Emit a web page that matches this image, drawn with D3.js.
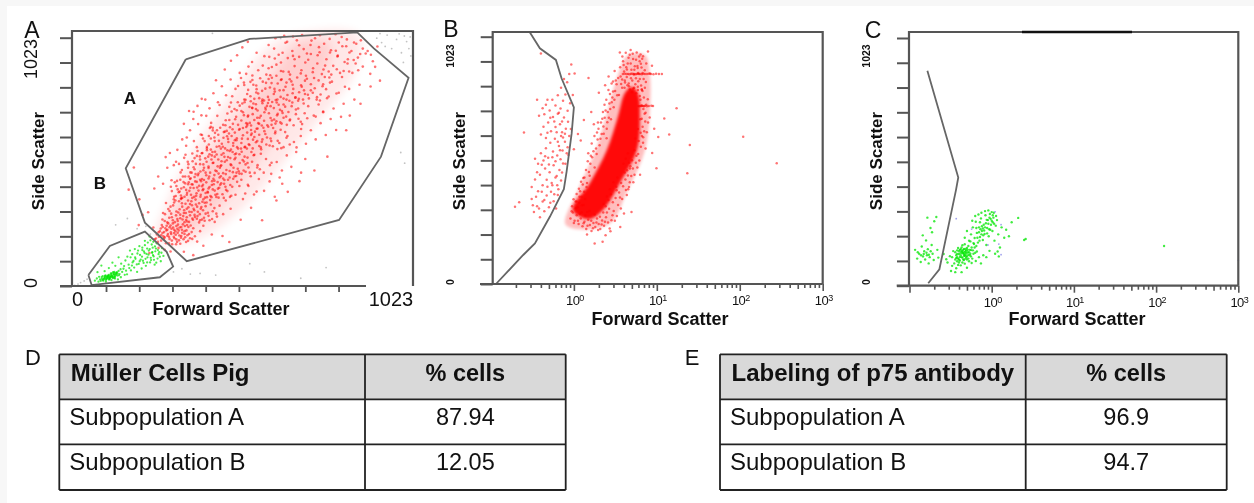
<!DOCTYPE html>
<html lang="en">
<head>
<meta charset="UTF-8">
<title>Scatter plots and tables</title>
<script src="https://cdnjs.cloudflare.com/ajax/libs/d3/7.8.5/d3.min.js"></script>
<style>
    html, body { margin: 0; padding: 0; background: #fff; overflow: hidden; }
    svg { display: block; filter: blur(0.45px); }
    text { font-family: "Liberation Sans", Arial, sans-serif; fill: #111; }
</style>
</head>
<body>
<svg id="fig" width="1254" height="503">
    <defs>
        <filter id="soft" x="-20%" y="-20%" width="140%" height="140%"><feGaussianBlur stdDeviation="5"/></filter>
        <filter id="softer" x="-20%" y="-20%" width="140%" height="140%"><feGaussianBlur stdDeviation="1.6"/></filter>
    </defs>
</svg>
<script>
// events are flat lists: x, y, x, y ... (forward scatter, side scatter)
const aRed = [
262,182,281,195,296,176,311,203,327,188,344,214,268,226,285,238,302,221,319,247,336,232,353,209,371,238,248,241,259,212,274,251,291,207,308,258,323,219,339,254,356,243,376,205,392,226,305,187,318,172,333,199,349,181,298,242,288,229,276,218,265,203,312,232,329,241,344,226,361,197,383,183,402,248,271,237,293,214,317,211,301,249,334,206,352,251,366,222,279,205,322,236,
283,268,297,281,314,263,331,294,349,272,366,305,382,277,401,312,418,289,437,264,294,317,309,332,327,349,343,312,361,338,378,356,396,325,412,344,431,308,452,331,471,352,278,301,303,298,322,276,340,288,358,264,375,293,392,271,409,298,425,336,444,286,319,307,337,327,355,352,372,318,389,341,406,269,287,342,311,357,334,362,351,283,368,278,385,306,402,357,421,271,463,296,486,318,348,301,
317,371,334,402,352,384,369,418,387,393,404,437,421,408,439,376,457,423,476,391,494,442,513,412,531,381,548,452,302,409,321,433,339,451,357,427,375,449,393,368,411,456,429,432,447,401,465,363,483,447,501,376,519,438,539,417,566,389,344,368,362,405,380,372,398,411,416,385,434,419,452,447,470,409,488,372,506,429,361,441,378,461,395,432,413,366,431,398,449,364,467,437,485,416,503,453,329,389,346,423,364,376,382,429,400,395,418,443,436,457,
336,478,354,512,372,489,391,534,409,467,427,521,446,493,464,547,483,474,501,528,520,462,538,507,557,539,576,481,595,523,347,541,366,467,384,556,402,501,421,543,439,476,458,514,476,559,495,487,513,543,532,471,550,552,569,498,588,467,612,508,356,502,375,527,393,472,412,512,430,552,449,463,467,532,486,501,504,467,523,519,541,488,560,466,579,545,399,548,418,486,437,533,455,494,474,518,492,552,511,473,529,533,
382,572,401,608,419,583,438,631,456,566,475,617,494,589,512,644,531,573,549,622,568,597,587,652,606,579,624,636,642,568,661,618,681,593,703,647,394,624,413,567,431,652,450,598,468,636,487,562,505,609,524,651,542,584,561,636,580,563,598,612,617,651,636,589,654,634,425,608,444,642,462,574,481,628,499,601,518,566,537,632,555,603,574,577,593,626,611,597,630,564,
426,672,445,701,463,664,482,738,500,687,519,721,538,668,556,752,575,693,593,734,612,664,631,709,649,748,668,682,687,727,706,667,725,741,748,698,771,719,452,746,471,683,489,719,508,757,527,704,545,672,564,729,582,661,601,754,620,686,638,726,657,698,676,756,695,689,714,712,540,702,552,734,571,671,590,716,609,741,627,679,646,713,
491,782,509,824,528,768,547,841,565,797,584,768,603,853,621,812,640,779,658,838,677,794,696,771,715,846,733,806,752,778,771,831,790,859,812,793,838,821,518,857,537,791,556,829,574,774,593,813,612,836,630,768,649,807,668,852,686,777,705,821,724,788,743,857,761,764,780,811,
534,874,552,923,571,889,590,947,608,868,627,912,646,961,665,882,683,934,702,876,721,958,740,897,758,984,777,908,796,871,815,946,834,886,852,962,871,917,893,978,918,953,566,961,585,908,603,993,622,937,641,886,660,1006,678,948,697,992,716,921,735,1011,754,951,772,892,791,1018,810,969,828,1026,847,934,866,1003,885,956,
// outliers
188,488,172,397,205,357,203,251,232,304,252,192,236,136,342,141,371,127,402,166,428,212,461,206,482,181,517,273,549,322,583,271,627,352,662,388,698,432,744,476,784,533,842,642,853,702,886,751,917,822,946,846,351,612,372,718,397,771,441,848,301,142,264,157,283,149,215,293,607,498,645,421,
// thick of the cloud
256,196,264,221,272,187,277,243,283,201,287,176,291,232,294,258,298,194,303,214,306,172,309,241,313,197,316,226,321,181,324,253,328,208,331,174,337,219,341,193,345,247,350,229,355,186,358,214,363,249,368,194,272,209,281,222,289,248,296,203,304,236,312,218,319,192,326,229,334,243,346,201,
276,274,284,296,291,262,298,309,305,283,312,344,318,291,323,268,329,316,333,358,338,274,342,301,347,339,352,266,356,324,361,291,365,349,370,273,374,312,379,336,384,288,389,262,394,318,399,347,404,281,409,329,416,302,423,354,429,276,436,321,442,298,301,327,308,271,316,352,325,303,331,279,336,341,344,263,351,318,359,306,367,333,376,284,383,327,391,296,398,274,406,343,
312,368,319,412,326,386,331,438,337,363,342,407,346,451,351,376,355,419,359,392,363,444,368,363,372,404,377,431,381,382,385,456,389,413,394,376,398,441,402,399,407,364,411,427,415,388,420,451,424,371,428,416,433,442,437,393,442,367,446,428,451,405,456,452,461,378,466,421,472,396,478,438,484,367,491,409,498,451,305,391,314,427,323,398,333,373,341,428,349,396,357,451,366,419,374,367,383,406,392,438,401,417,409,383,418,402,427,366,436,434,445,379,454,417,463,443,
362,468,369,514,375,481,382,536,387,463,392,502,397,547,402,477,408,526,413,559,418,492,423,467,428,538,433,508,438,553,443,473,448,521,453,487,458,541,463,465,468,512,473,478,478,531,483,556,488,498,493,469,498,522,503,546,508,483,514,507,520,553,526,476,532,501,538,529,545,467,552,512,559,541,568,488,327,503,343,528,355,487,368,546,379,503,392,521,404,487,417,533,431,507,443,542,457,497,471,461,485,527,499,543,513,463,527,513,
413,573,419,618,425,562,431,641,437,597,443,574,448,623,454,652,459,586,464,611,469,567,474,639,479,593,484,654,489,618,494,578,499,632,504,601,509,566,514,647,519,589,524,621,529,572,534,655,539,606,544,581,549,643,554,567,559,614,564,592,569,649,574,623,579,571,584,604,590,638,596,583,602,656,609,608,616,576,623,629,631,598,640,644,649,572,658,611,668,583,406,597,422,651,436,612,451,576,465,634,478,606,492,646,506,572,521,607,536,566,551,628,566,648,582,594,
470,662,476,711,482,684,487,756,493,668,498,729,503,697,509,664,514,743,519,682,524,716,529,757,534,671,539,698,544,738,549,661,554,708,559,684,564,749,569,723,574,668,579,701,584,753,589,681,594,727,599,662,604,712,609,692,614,758,619,733,624,669,629,703,634,747,639,674,644,721,649,693,654,739,659,664,664,717,669,686,674,741,680,662,687,708,694,731,702,677,711,752,722,691,505,724,522,752,537,661,553,733,568,693,583,761,598,742,613,682,628,756,643,669,
532,767,540,808,547,782,553,849,559,771,565,826,571,793,577,856,583,804,589,764,595,837,601,779,607,818,613,858,619,791,625,766,631,834,637,806,643,852,649,772,655,821,661,787,667,763,673,843,679,812,685,776,691,859,697,798,703,827,709,768,715,791,721,854,727,773,733,831,739,796,745,815,751,768,757,847,763,789,769,823,776,861,783,774,792,838,528,828,548,761,566,811,585,842,604,767,622,801,641,849,658,768,677,829,694,763,712,806,
596,871,605,944,613,902,620,978,627,866,634,953,641,921,648,884,655,1002,662,939,669,871,676,968,683,906,690,1012,697,944,704,889,711,976,718,866,725,932,732,993,739,881,746,1021,753,917,760,963,767,873,774,998,781,934,788,884,795,971,802,907,809,1037,816,949,823,878,830,988,837,923,844,1016,851,884,858,968,865,931,873,998,603,897,624,1021,651,1031,678,1028,706,1034,733,956,761,1033,792,962,819,1003,842,988,879,889,
// right flank
524,358,541,412,558,377,573,441,589,392,606,431,622,368,637,447,611,462,628,511,644,476,659,538,673,491,688,552,703,467,716,523,689,571,702,618,718,586,733,642,748,604,763,671,779,622,794,688,811,643,826,697,742,702,757,748,771,716,788,781,803,731,819,796,834,751,851,812,867,768,883,829,798,842,813,893,829,861,846,917,861,878,878,941,893,904,908,968,924,926,938,987,887,1012,902,958,916,874,931,903,
// left flank
251,402,263,451,278,421,291,487,304,436,318,512,332,468,286,531,299,548,311,498,322,561,337,604,349,578,361,642,373,597,386,667,398,622,411,701,425,656,342,668,358,721,371,688,384,742,396,703,408,768,421,732,433,794,447,757,459,823,472,786,486,851,501,812,514,878,527,838,541,904,553,867,468,892,487,928,506,951,522,983,539,1006,
];
const aRedWash = [[255,210],[285,330],[330,460],[385,590],[450,720],[520,850],[590,970],[680,1035],[880,1035],[870,880],[780,720],[680,560],[580,400],[480,270],[380,190],[300,170]];
const aRedCore = [[290,230],[340,370],[400,500],[470,630],[540,750],[620,880],[690,1000],[790,1000],[770,860],[680,720],[600,570],[510,420],[420,290],[350,220]];
const aGreen = [
68,22,74,31,79,18,84,27,89,36,92,24,96,31,99,42,103,29,106,37,110,46,113,33,117,41,120,52,124,38,127,47,130,31,134,54,137,43,141,62,144,49,148,36,152,58,156,71,160,46,164,63,92,41,102,18,81,38,111,27,119,24,128,58,139,27,147,69,158,82,167,48,
172,88,179,64,184,97,189,76,193,112,198,58,203,91,207,128,212,72,216,104,221,136,225,83,230,118,234,146,238,97,243,171,247,127,252,88,256,154,261,113,266,139,271,102,275,156,279,124,
183,131,191,152,197,89,205,164,214,148,222,186,229,154,236,204,244,137,250,108,258,176,264,131,209,109,218,95,227,132,240,116,246,158,254,143,168,121,176,146,149,92,162,105,141,118,131,83,122,96,111,74,98,61,88,84,76,57,
// tail core and upper blob
96,28,100,34,104,39,108,33,112,44,115,38,118,47,122,43,126,49,129,41,133,52,136,57,102,25,107,41,114,31,121,36,127,33,110,38,117,52,124,57,131,46,86,21,90,29,94,22,98,37,101,44,105,31,109,42,113,27,116,36,120,42,123,33,127,54,130,38,134,47,138,51,142,44,
192,118,199,134,206,102,213,121,219,143,224,112,229,97,233,129,237,152,241,107,245,139,249,122,253,163,257,96,262,148,268,121,273,137,214,158,222,168,231,179,239,188,248,182,201,146,187,103,178,118,174,74,182,84
];
const aGrey = [
936,1021,951,1003,968,1034,982,978,997,1016,1012,961,1028,1007,1041,948,962,987,1005,1039,1021,1030,946,1040,1035,978,1039,1026,1018,921,
6,2,16,8,24,14,35,21,44,28,132,252,168,278,198,236,225,246,239,214,310,58,336,71,362,49,392,52,440,45,545,92,590,58,702,32,780,76,1022,506,1010,550,640,1020,430,1041,
];
const aGate = [[348,934],[545,1018],[876,1045],[927,979],[1034,858],[949,533],[820,272],[351,102],[294,173],[222,261],[163,485],[348,934]];
const aGateB = [[48,45],[114,165],[222,224],[289,141],[309,80],[268,36],[58,4],[48,45]];

const bRed = [
// bottom of the main cloud
0.97,296,1.02,262,1.08,284,1.14,248,1.21,271,1.27,239,1.34,258,1.41,228,1.49,266,1.56,244,1.63,219,1.72,252,1.81,236,1.9,271,1.99,248,2.08,228,2.19,263,2.31,241,2.44,276,2.58,254,2.7,230,2.92,284,3.12,262,1.11,318,1.05,341,1.17,361,1.24,297,1.31,327,1.19,384,1.28,412,1.37,352,1.45,298,1.3,438,1.52,463,1.42,401,
0.95,322,0.99,351,1.08,372,1.16,336,2.42,322,2.61,347,2.79,371,2.95,338,3.18,356,3.41,327,3.68,312,4.02,292,3.24,402,3.51,378,3.82,352,4.24,389,3.34,441,3.71,418,4.18,432,4.62,401,4.95,298,
0.91,271,0.94,301,1,252,1.06,313,1.12,262,1.18,291,1.25,326,1.31,251,1.38,283,1.46,241,1.54,302,1.62,262,1.7,231,1.78,288,1.87,254,1.96,223,2.06,278,2.16,246,2.26,296,2.37,258,2.5,296,2.66,311,2.84,264,3.02,302,3.3,281,1.08,341,1.15,394,1.22,423,1.34,441,1.4,472,1.47,508,1.55,448,1.6,531,1.24,361,1.33,382,1.44,418,2.28,331,2.5,362,2.72,392,3,421,3.28,388,3.6,358,3.92,404,4.35,368,4.1,461,4.48,449,4.8,487,
// left and right edges going up
1.58,497,1.66,524,1.49,541,1.78,482,1.85,561,1.93,598,2.04,574,2.16,621,2.27,652,2.35,688,2.49,642,2.56,711,2.68,747,2.8,682,2.91,772,3.02,731,3.14,798,3.27,826,2.48,603,1.72,549,2.12,668,2.34,741,2.61,802,2.85,829,
1.64,581,1.77,612,1.88,538,1.98,642,2.09,601,2.2,684,2.29,622,2.41,718,2.53,669,2.64,688,2.74,724,2.86,752,2.97,796,3.08,762,3.2,842,3.33,781,1.95,668,2.24,712,2.46,762,2.72,786,2.96,838,
3.96,497,4.21,518,4.48,541,4.74,478,5.02,512,5.36,553,5.68,531,6.03,592,6.42,568,6.85,607,7.31,561,5.48,602,5.92,641,6.31,682,6.74,651,7.12,704,7.58,628,7.84,668,8.21,689,6.55,736,6.98,771,7.46,742,5.82,482,6.28,452,4.92,447,5.21,421,
4.38,471,4.62,502,5.14,478,5.58,502,5.96,538,6.16,511,6.62,612,6.38,626,6.82,584,7.04,632,7.24,672,6.58,684,6.88,724,7.32,708,7.78,764,6.72,798,7.18,812,6.34,762,6.58,806,5.38,452,4.72,421,4.52,392,
// top spray
3.42,852,3.61,897,3.84,941,4.03,879,4.22,957,4.46,912,4.71,948,4.94,886,5.18,931,5.43,901,5.72,958,5.96,873,6.21,921,6.54,896,6.82,942,7.15,884,7.46,912,7.82,962,8.24,871,8.74,903,3.71,827,4.14,834,4.62,818,5.06,842,5.51,826,5.97,839,6.46,821,6.93,848,7.38,836,3.92,921,4.36,887,4.83,968,5.28,867,5.84,902,6.37,949,6.72,873,3.58,958,
3.66,858,3.98,906,4.28,897,4.56,936,4.84,912,5.12,952,5.36,886,5.62,928,5.88,894,6.12,941,6.42,911,6.66,932,3.82,846,4.08,812,4.34,856,4.58,829,4.88,851,5.22,809,5.6,851,5.9,816,6.24,848,6.6,802,
// streaks
3.9,869,4.1,870,4.3,869,4.5,869,4.7,868,4.9,870,5.1,870,5.3,869,5.5,868,5.7,869,5.9,870,6.1,869,6.3,869,6.6,868,6.9,870,7.2,869,7.6,869,8,870,8.5,869,9.1,868,9.8,870,10.6,869,11.5,869,
6,736,6.2,735,6.4,737,6.6,738,6.8,736,7,735,7.2,737,7.6,735,8,736,8.6,737,9,736,
// above the core
3.5,782,3.82,812,4.11,842,4.42,822,4.73,805,5.02,793,5.33,812,5.64,789,5.92,802,6.24,778,
// outliers
17.3,727,12.3,685,14.1,618,25,575,110,609,279,499,23.3,458,9.9,479,2.22,175,0.195,320,0.25,627,0.219,338,0.4,954,1.78,168,2.41,202,2.76,218,3.62,236,10.4,608,8.8,542,9.3,642,1.44,205,
// population left of the gate
0.31,352,0.33,298,0.36,322,0.39,276,0.42,341,0.44,301,0.47,366,0.5,318,0.53,382,0.57,342,0.61,312,0.64,368,0.31,401,0.34,432,0.37,384,0.39,452,0.42,408,0.45,478,0.47,431,0.51,462,0.54,418,0.57,491,0.6,441,0.63,408,0.67,472,0.7,428,0.74,498,0.34,518,0.37,497,0.4,541,0.43,511,0.46,562,0.49,522,0.52,584,0.56,548,0.59,601,0.63,532,0.66,571,0.7,612,0.73,552,0.78,588,0.82,541,0.4,618,0.43,651,0.46,604,0.49,668,0.53,632,0.56,691,0.6,649,0.64,704,0.68,661,0.72,628,0.76,689,0.8,642,0.85,671,0.38,696,0.42,727,0.46,741,0.51,718,0.55,762,0.6,738,0.64,781,0.69,726,0.74,758,0.79,784,0.84,717,0.9,748,0.36,762,0.7,812,0.76,848,0.83,835,0.88,869,0.93,908,1.02,871,0.97,782,0.88,612,0.84,566,0.79,497,0.86,534,0.92,641,1.0,557,1.12,621,1.21,594,1.32,678,1.5,852,1.62,712,1.74,661,1.9,627,2.0,791,2.38,822,2.62,858,3.1,881,
0.32,326,0.35,361,0.38,312,0.41,382,0.44,347,0.48,402,0.52,336,0.55,408,0.58,371,0.62,447,0.65,392,0.69,516,0.72,461,0.36,462,0.41,493,0.45,528,0.5,494,0.55,524,0.6,508,0.64,588,0.68,553,0.74,606,0.48,626,0.52,688,0.58,672,0.62,628,0.66,708,0.72,672,0.78,622,0.44,702,0.48,762
];
const bCore = [[0.97,306],[1.56,418],[2.5,554],[3.39,691],[4.12,790],[5,815],[5.9,790],[6.25,691],[5.76,554],[3.59,418],[2.24,306],[1.5,268]];
const bWash = [[0.8,244],[1.12,389],[1.84,554],[2.57,720],[3.4,865],[4.48,947],[7.2,947],[8.26,865],[8.26,720],[7.2,554],[4.48,389],[2.57,244]];
const bGate = [[0.294,1041],[0.389,975],[0.607,927],[0.71,851],[1,731],[0.94,623],[0.817,465],[0.757,392],[0.513,278],[0.339,168],[0.245,120],[0.115,0]];

const cGreen = [
// left group
0.117,148,0.124,112,0.131,132,0.137,98,0.141,162,0.146,121,0.151,142,0.155,108,0.159,187,0.163,126,0.167,151,0.171,92,0.176,118,0.181,142,0.186,168,0.191,132,0.197,106,0.126,138,0.138,126,0.149,131,0.161,136,0.172,128,0.145,208,0.18,238,0.165,281,0.2,266,0.212,284,0.188,221,0.218,148,0.224,116,
// main group lower
0.29,96,0.31,122,0.33,82,0.34,143,0.36,108,0.37,72,0.38,131,0.39,156,0.4,96,0.41,119,0.42,84,0.43,142,0.44,167,0.45,108,0.46,131,0.47,91,0.48,152,0.49,118,0.5,74,0.51,138,0.52,164,0.53,101,0.54,126,0.55,183,0.56,147,0.57,94,0.58,112,0.36,138,0.38,101,0.41,148,0.43,118,0.45,136,0.47,124,0.49,146,0.42,126,0.44,134,0.46,152,0.48,128,0.4,131,0.37,114,0.35,92,0.33,118,0.39,86,0.44,96,0.52,128,0.5,156,0.47,171,0.54,148,0.56,121,0.6,132,0.62,158,0.64,102,0.66,141,0.7,118,0.74,92,0.79,126,0.32,61,0.28,109,0.26,131,0.43,56,0.36,56,
0.37,126,0.38,146,0.39,112,0.4,142,0.41,104,0.42,136,0.43,158,0.44,116,0.45,148,0.46,106,0.47,138,0.48,112,0.49,134,0.5,122,0.51,148,0.52,112,0.53,138,0.55,132,0.57,158,0.59,146,0.61,172,0.63,136,0.65,164,0.38,118,0.4,108,0.42,151,0.44,142,0.46,124,0.48,142,0.5,108,
// main group upper
0.47,198,0.5,226,0.53,186,0.56,212,0.59,241,0.6,176,0.62,197,0.64,264,0.66,218,0.68,178,0.7,241,0.72,201,0.74,278,0.76,226,0.78,189,0.8,252,0.82,214,0.84,291,0.86,168,0.88,238,0.9,271,0.92,204,0.95,296,0.98,252,1.02,226,1.05,281,1.08,186,1.12,248,1.16,271,1.2,212,1.26,158,1.32,241,1.42,198,1.5,231,1.62,204,1.75,262,2.1,280,0.58,268,0.63,288,0.69,294,0.75,301,0.83,308,0.91,311,1,304,1.06,301,1.18,141,1.22,121,1.1,132,0.94,144,0.86,118,2.59,193,2.48,189,125,164,
0.7,221,0.73,233,0.76,246,0.79,208,0.81,228,0.85,258,0.88,216,0.93,233,0.97,276,1.03,262,0.67,198,0.71,186,0.75,212,0.78,236,0.83,241,0.87,272,0.91,256,0.96,231,1,268,1.07,256,1.13,288,1.03,291,0.94,281,0.72,262,0.65,238
];
const cOther = [0.37,277,0.57,234,0.9,168,1.3,128,1.22,172,1.3,252,1000,105,1.1,305];
const cGate = [[0.165,888],[0.392,447],[0.368,396],[0.231,68],[0.169,10]];

const tableD = { head: ["Müller Cells Pig", "% cells"], rows: [["Subpopulation A", "87.94"], ["Subpopulation B", "12.05"]] };
const tableE = { head: ["Labeling of p75 antibody", "% cells"], rows: [["Subpopulation A", "96.9"], ["Subpopulation B", "94.7"]] };

const RED = "#ff0000", GREEN = "#00e600", AXIS = "#555";
const svg = d3.select("#fig");

// light edge of the pasted image
svg.append("rect").attr("width", 1254).attr("height", 503).attr("fill", "#f7f7f7");
svg.append("rect").attr("x", 7).attr("y", 6).attr("width", 1247).attr("height", 497).attr("fill", "#fff");

function pairs(flat) {
    const out = [];
    for (let i = 0; i < flat.length; i += 2) out.push([flat[i], flat[i + 1]]);
    return out;
}

function dots(g, x, y, flat, color, r, op) {
    g.append("g").selectAll("circle")
        .data(pairs(flat))
        .enter().append("circle")
        .attr("cx", d => x(d[0]))
        .attr("cy", d => y(d[1]))
        .attr("r", r)
        .attr("fill", color)
        .attr("opacity", op);
}

function blob(g, x, y, pts, op, filter) {
    g.append("path")
        .attr("d", d3.line().x(d => x(d[0])).y(d => y(d[1])).curve(d3.curveCatmullRomClosed)(pts))
        .attr("fill", RED)
        .attr("opacity", op)
        .attr("filter", "url(#" + filter + ")");
}

function gate(g, x, y, pts) {
    g.append("path")
        .attr("d", d3.line().x(d => x(d[0])).y(d => y(d[1]))(pts))
        .attr("fill", "none")
        .attr("stroke", "#666")
        .attr("stroke-width", 1.8);
}

function yAxis(g, y, left, len) {
    const ax = g.append("g")
        .attr("transform", "translate(" + left + ",0)")
        .call(d3.axisLeft(y).tickValues(d3.range(0, 1024, 102.3)).tickSize(len).tickFormat(""));
    ax.select(".domain").remove();
    ax.selectAll("line").attr("stroke", AXIS).attr("stroke-width", 2);
}

function frame(g, l, t, r, b, bottomTo) {
    g.append("path")
        .attr("d", "M" + r + "," + b + "V" + t + "H" + l + "V" + b)
        .attr("fill", "none").attr("stroke", AXIS).attr("stroke-width", 2.2);
    g.append("line")
        .attr("x1", bottomTo[0]).attr("x2", bottomTo[1]).attr("y1", b).attr("y2", b)
        .attr("stroke", AXIS).attr("stroke-width", 2.2);
}

function label(g, txt, x, y, size, weight, rot) {
    const t = g.append("text")
        .attr("text-anchor", "middle")
        .attr("font-size", size)
        .attr("font-weight", weight || "normal")
        .text(txt);
    if (rot) t.attr("transform", "translate(" + x + "," + y + ") rotate(-90)");
    else t.attr("x", x).attr("y", y);
    return t;
}

function logAxis(g, x, bottom) {
    const ax = g.append("g")
        .attr("transform", "translate(0," + bottom + ")")
        .call(d3.axisBottom(x).tickValues(x.ticks()).tickFormat(""));
    ax.select(".domain").remove();
    ax.selectAll("line")
        .attr("stroke", AXIS)
        .attr("stroke-width", 1.6)
        .attr("y2", d => {
            const lead = d / Math.pow(10, Math.floor(Math.log10(d) + 1e-9));
            return Math.abs(lead - 1) < 1e-6 ? 7 : (Math.abs(lead - 5) < 1e-6 ? 5 : 4);
        });
    [0, 1, 2, 3].forEach(p => {
        const t = g.append("text")
            .attr("x", x(Math.pow(10, p)) + 1)
            .attr("y", bottom + 21)
            .attr("text-anchor", "middle")
            .attr("font-size", 13)
            .attr("letter-spacing", -0.6)
            .text("10");
        t.append("tspan").attr("dy", -4).attr("font-size", 9).text(p);
    });
}

// panel A
{
    const x = d3.scaleLinear().domain([0, 1023]).range([72.8, 405]);
    const y = d3.scaleLinear().domain([0, 1023]).range([286, 37.7]);
    const g = svg.append("g");
    blob(g, x, y, aRedWash, 0.09, "soft");
    blob(g, x, y, aRedCore, 0.1, "soft");
    dots(g, x, y, aGrey, "#aaa", 0.9, 0.7);
    dots(g, x, y, aRed, RED, 1.3, 0.55);
    dots(g, x, y, aGreen, GREEN, 1.15, 0.7);
    gate(g, x, y, aGate);
    gate(g, x, y, aGateB);
    frame(g, 72, 31, 413, 286, [60, 366]);
    yAxis(g, y, 72, 12);
    const ax = g.append("g").attr("transform", "translate(0,286)")
        .call(d3.axisBottom(x).tickValues(d3.range(1, 9).map(k => k * 102.3)).tickSize(6).tickFormat(""));
    ax.select(".domain").remove();
    ax.selectAll("line").attr("stroke", AXIS).attr("stroke-width", 1.8);
    label(g, "A", 32, 38, 23);
    label(g, "A", 130, 104, 17, "bold");
    label(g, "B", 100, 189, 17, "bold");
    label(g, "1023", 37, 59, 18, "normal", true);
    label(g, "0", 37, 283, 18, "normal", true);
    label(g, "0", 77.5, 306, 20);
    label(g, "1023", 391, 306, 20);
    label(g, "Side Scatter", 44, 161, 17, "bold", true);
    label(g, "Forward Scatter", 221, 315, 18, "bold");
}

// panel B
{
    const x = d3.scaleLog().domain([0.105, 1000]).range([492.7, 822.7]);
    const y = d3.scaleLinear().domain([0, 1023]).range([284, 36.7]);
    const g = svg.append("g");
    blob(g, x, y, bWash, 0.25, "softer");
    blob(g, x, y, bCore, 0.95, "softer");
    dots(g, x, y, bRed, RED, 1.25, 0.55);
    gate(g, x, y, bGate);
    frame(g, 492.7, 32, 822.7, 284, [480, 822.7]);
    yAxis(g, y, 492.7, 12);
    logAxis(g, x, 284);
    label(g, "B", 451, 37, 23);
    label(g, "1023", 454, 56, 10.5, "bold", true);
    label(g, "0", 454, 282, 10.5, "bold", true);
    label(g, "Side Scatter", 465, 161, 17, "bold", true);
    label(g, "Forward Scatter", 660, 325, 18, "bold");
}

// panel C
{
    const x = d3.scaleLog().domain([0.0986, 1000]).range([909, 1238.3]);
    const y = d3.scaleLinear().domain([0, 1023]).range([285.7, 38]);
    const g = svg.append("g");
    dots(g, x, y, cGreen, GREEN, 1.2, 0.75);
    dots(g, x, y, cOther, "#8a8ae8", 0.9, 0.8);
    gate(g, x, y, cGate);
    frame(g, 909, 32, 1238.3, 285.7, [896.7, 1238.3]);
    g.append("line").attr("x1", 1022).attr("x2", 1132).attr("y1", 32).attr("y2", 32)
        .attr("stroke", "#111").attr("stroke-width", 2.4);
    yAxis(g, y, 909, 12);
    logAxis(g, x, 285.7);
    label(g, "C", 873, 38, 23);
    label(g, "1023", 870, 56, 10.5, "bold", true);
    label(g, "0", 870, 282, 10.5, "bold", true);
    label(g, "Side Scatter", 882, 161, 17, "bold", true);
    label(g, "Forward Scatter", 1077, 325, 18, "bold");
}

function drawTable(tbl, left, split, right, letter, letterX) {
    const rowY = [354.3, 399.3, 444.3, 490];
    const baseY = [380.5, 425, 469.5];
    const g = svg.append("g");
    g.append("rect")
        .attr("x", left).attr("y", rowY[0])
        .attr("width", right - left).attr("height", rowY[1] - rowY[0])
        .attr("fill", "#d9d9d9");
    g.selectAll("line.h").data(rowY).enter().append("line")
        .attr("x1", left).attr("x2", right)
        .attr("y1", d => d).attr("y2", d => d)
        .attr("stroke", "#222").attr("stroke-width", 1.8);
    g.selectAll("line.v").data([left, split, right]).enter().append("line")
        .attr("x1", d => d).attr("x2", d => d)
        .attr("y1", rowY[0]).attr("y2", rowY[3])
        .attr("stroke", "#222").attr("stroke-width", 1.8);
    const allRows = [tbl.head].concat(tbl.rows);
    allRows.forEach((row, i) => {
        const weight = i === 0 ? "bold" : "normal";
        g.append("text").attr("x", left + (i === 0 ? 11.5 : 10)).attr("y", baseY[i])
            .attr("font-size", 24).attr("font-weight", weight)
            .text(row[0]);
        g.append("text").attr("x", (split + right) / 2).attr("y", baseY[i])
            .attr("text-anchor", "middle")
            .attr("font-size", 23.5).attr("font-weight", weight).text(row[1]);
    });
    label(g, letter, letterX, 365, 22);
}

drawTable(tableD, 59.3, 365, 565.7, "D", 33);
drawTable(tableE, 720, 1025.7, 1226.7, "E", 692);
</script>
</body>
</html>
